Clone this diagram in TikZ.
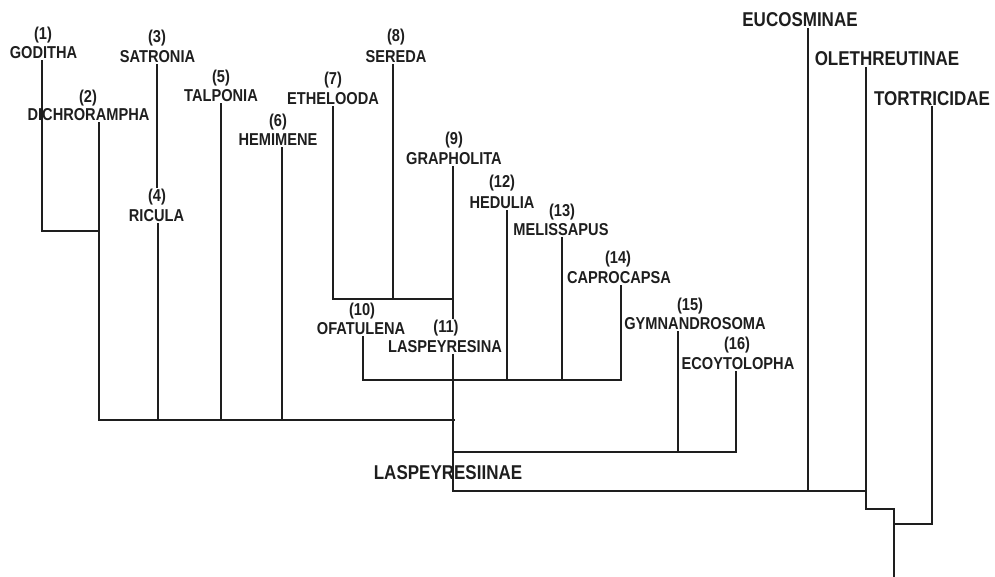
\documentclass[tikz,border=0pt]{standalone}
\usepackage{fontspec}
\newfontfamily\lab{Liberation Sans}[FakeStretch=0.85]
\definecolor{ink}{HTML}{1E1E1E}
\tikzset{
  lbl/.style={font=\lab\bfseries\fontsize{17.2}{18}\selectfont, text=ink, inner sep=1.5pt},
  biglbl/.style={font=\lab\bfseries\fontsize{20}{22}\selectfont, text=ink, inner sep=1.5pt},
  edge/.style={draw=ink, line width=2pt, line cap=rect},
  rootedge/.style={draw=ink, line width=2.6pt, line cap=rect}
}
\begin{document}
\begin{tikzpicture}[x=1pt,y=-1pt]
\useasboundingbox (0,0) rectangle (995,576);
% numbers and names
\node[lbl] (n1) at (43,35) {(1)};   \node[lbl] (t1) at (43.5,53) {GODITHA};
\node[lbl] (n2) at (88,98) {(2)};   \node[lbl] (t2) at (88.5,115) {DICHRORAMPHA};
\node[lbl] (n3) at (157,38) {(3)};  \node[lbl] (t3) at (157.5,57) {SATRONIA};
\node[lbl] (n4) at (157,197) {(4)}; \node[lbl] (t4) at (156.5,216) {RICULA};
\node[lbl] (n5) at (221,78) {(5)};  \node[lbl] (t5) at (221,96) {TALPONIA};
\node[lbl] (n6) at (278,122) {(6)}; \node[lbl] (t6) at (278,140) {HEMIMENE};
\node[lbl] (n7) at (333,80) {(7)};  \node[lbl] (t7) at (333,99) {ETHELOODA};
\node[lbl] (n8) at (396,37) {(8)};  \node[lbl] (t8) at (396,57) {SEREDA};
\node[lbl] (n9) at (454,140) {(9)}; \node[lbl] (t9) at (454,159) {GRAPHOLITA};
\node[lbl] (n10) at (362,311) {(10)}; \node[lbl] (t10) at (361,329) {OFATULENA};
\node[lbl] (n11) at (446,328) {(11)}; \node[lbl] (t11) at (445,347) {LASPEYRESINA};
\node[lbl] (n12) at (502,183) {(12)}; \node[lbl] (t12) at (502,203) {HEDULIA};
\node[lbl] (n13) at (562,212) {(13)}; \node[lbl] (t13) at (561,230) {MELISSAPUS};
\node[lbl] (n14) at (618,259) {(14)}; \node[lbl] (t14) at (619,278) {CAPROCAPSA};
\node[lbl] (n15) at (690,306) {(15)}; \node[lbl] (t15) at (695,324) {GYMNANDROSOMA};
\node[lbl] (n16) at (737,345) {(16)}; \node[lbl] (t16) at (738,364) {ECOYTOLOPHA};
\node[biglbl] (eu) at (800,20) {EUCOSMINAE};
\node[biglbl] (ol) at (887,59) {OLETHREUTINAE};
\node[biglbl] (to) at (932,98.5) {TORTRICIDAE};
\node[biglbl] (la) at (448,473) {LASPEYRESIINAE};
% junctions
\coordinate (j12) at (99,231);
\coordinate (jA) at (99,420);
\coordinate (jAend) at (454,420);
\coordinate (j78) at (333,299);
\coordinate (j789) at (453,299);
\coordinate (jB) at (363,380);
\coordinate (jBend) at (621,380);
\coordinate (jC) at (453,452);
\coordinate (jCend) at (736,452);
\coordinate (jD) at (453,491);
\coordinate (jDend) at (866,491);
\coordinate (jE) at (866,509);
\coordinate (jF) at (894,509);
\coordinate (jG) at (894,524);
\coordinate (root) at (894,576);
% connectors
\draw[edge] (t1.south -| 42,0) |- (j12);
\draw[edge] (t2.south -| 99,0) -- (jA);
\draw[edge] (t3.south -| 157,0) -- (n4.north -| 157,0);
\draw[edge] (t4.south -| 158,0) -- (158,420);
\draw[edge] (t5.south -| 221,0) -- (221,420);
\draw[edge] (t6.south -| 282,0) -- (282,420);
\draw[edge] (jA) -- (jAend);
\draw[edge] (t7.south -| 333,0) -- (j78) -- (j789);
\draw[edge] (t8.south -| 393,0) -- (393,299);
\draw[edge] (t9.south -| 453,0) -- (n11.north -| 453,0);
\draw[edge] (t11.south -| 453,0) -- (jD) -- (jDend);
\draw[edge] (t10.south -| 363,0) -- (jB) -- (jBend);
\draw[edge] (t12.south -| 507,0) -- (507,380);
\draw[edge] (t13.south -| 562,0) -- (562,380);
\draw[edge] (t14.south -| 621,0) -- (jBend);
\draw[edge] (jC) -- (jCend);
\draw[edge] (t15.south -| 678,0) -- (678,452);
\draw[edge] (t16.south -| 736,0) -- (jCend);
\draw[edge] (eu.south -| 808,0) -- (808,491);
\draw[edge] (ol.south -| 866,0) -- (jE) -- (jF);
\draw[edge] (to.south -| 932,0) |- (jG);
\draw[rootedge] (jF) -- (root);
\end{tikzpicture}
\end{document}
